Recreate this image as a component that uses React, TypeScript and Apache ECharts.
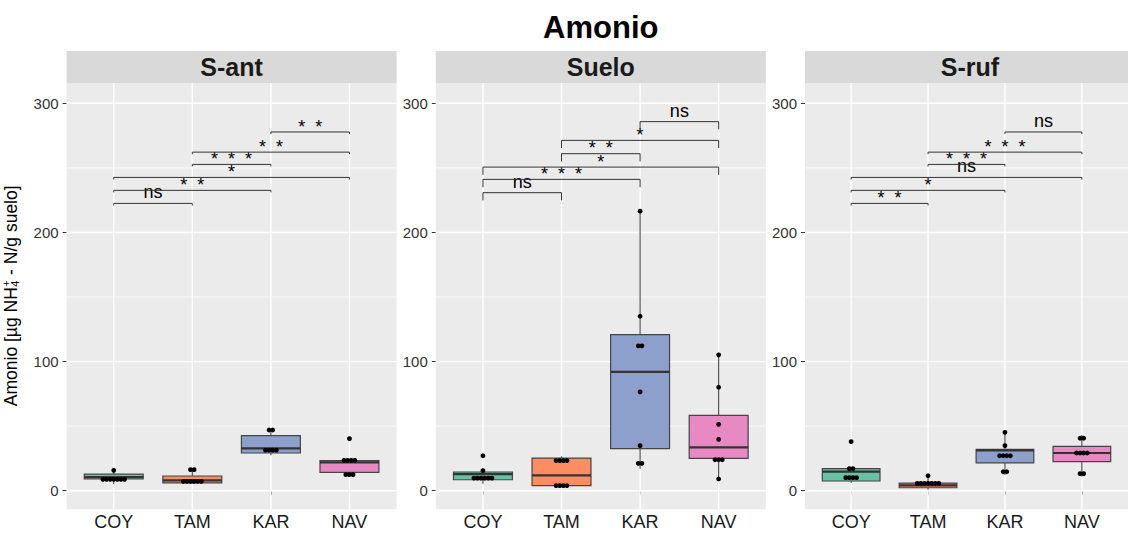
import React, { useEffect, useRef } from 'react';
import * as echarts from 'echarts';

// Sampling sites (x categories) and their fill colours
const groups = ['COY', 'TAM', 'KAR', 'NAV'];
const groupColors = ['#66C2A5', '#FC8D62', '#8DA0CB', '#E78AC3'];

// Facet panels
const panelNames = ['S-ant', 'Suelo', 'S-ruf'];

// Axis ticks and grid lines
const yTicks = [0, 100, 200, 300];
const yGridValues = [0, 50, 100, 150, 200, 250, 300];
const xPositions = [1, 2, 3, 4];

// Box statistics per group: [lower whisker, Q1, median, Q3, upper whisker]
const boxSAnt = [
  [5.0, 9.2, 10.6, 12.8, 15.8],
  [5.5, 6.0, 8.0, 11.4, 16.3],
  [27.4, 29.2, 32.8, 42.6, 47.0],
  [12.4, 14.2, 22.0, 23.3, 23.5],
];
const boxSuelo = [
  [5.4, 8.5, 12.9, 14.5, 15.5],
  [3.6, 3.9, 11.9, 25.3, 26.6],
  [17.0, 32.6, 92.0, 120.9, 217.0],
  [9.1, 25.1, 33.6, 58.4, 105.2],
];
const boxSRuf = [
  [6.0, 7.5, 14.7, 17.1, 17.1],
  [0.8, 2.3, 4.1, 5.9, 11.6],
  [12.2, 21.5, 31.2, 32.0, 45.5],
  [11.0, 22.5, 29.2, 34.4, 43.1],
];

// Individual samples (dot-plot bins)
const dotsSAnt = [
  [15.8, 8.8, 8.8, 8.8, 8.8, 8.8, 8.8, 8.8],
  [16.3, 16.3, 7.2, 7.2, 7.2, 7.2, 7.2, 7.2],
  [47.0, 47.0, 31.4, 31.4, 31.4, 31.4],
  [40.3, 23.5, 23.5, 23.5, 23.5, 12.4, 12.4, 12.4],
];
const dotsSuelo = [
  [27.1, 15.5, 9.8, 9.8, 9.8, 9.8, 9.8, 9.8],
  [23.3, 23.3, 23.3, 23.3, 3.9, 3.9, 3.9, 3.9],
  [216.5, 135.1, 112.2, 112.2, 76.5, 34.9, 21.2, 21.2],
  [105.2, 80.1, 51.4, 39.8, 24.0, 24.0, 24.0, 9.1],
];
const dotsSRuf = [
  [38.0, 17.1, 17.1, 10.1, 10.1, 10.1, 10.1],
  [11.6, 5.7, 5.7, 5.7, 5.7, 5.7, 5.7, 5.7],
  [45.2, 34.9, 27.1, 27.1, 27.1, 27.1, 14.7, 14.7],
  [40.6, 40.6, 29.2, 29.2, 29.2, 29.2, 13.2, 13.2],
];

// Pairwise comparisons (group indices) and their significance labels / heights
const bracketPairs = [
  [0, 1],
  [0, 2],
  [0, 3],
  [1, 2],
  [1, 3],
  [2, 3],
];
const bracketLabelsSAnt = ['ns', '**', '*', '***', '**', '**'];
const bracketLabelsSuelo = ['ns', '***', '*', '**', '*', 'ns'];
const bracketLabelsSRuf = ['**', '*', 'ns', '***', '***', 'ns'];
const bracketHeightsSAnt = [222.5, 232.6, 242.6, 252.7, 262.2, 277.8];
const bracketHeightsSuelo = [230.8, 241.1, 250.6, 261.0, 271.3, 285.8];
const bracketHeightsSRuf = [222.5, 232.6, 242.6, 252.7, 262.2, 277.8];

const panelBoxes = [boxSAnt, boxSuelo, boxSRuf];
const panelDots = [dotsSAnt, dotsSuelo, dotsSRuf];
const panelBracketLabels = [bracketLabelsSAnt, bracketLabelsSuelo, bracketLabelsSRuf];
const panelBracketHeights = [bracketHeightsSAnt, bracketHeightsSuelo, bracketHeightsSRuf];
const panelTipLength = [1.6, 6, 1.6];

// Y axis title pieces: main text, stacked subscript/superscript, rest
const yTitleHead = 'Amonio [µg NH';
const yTitleSub = '4';
const yTitleSup = '+';
const yTitleTail = ' - N/g suelo]';

// Layout
const FONT = 'Liberation Sans, Arial, Helvetica, sans-serif';
const PANEL_LEFT = [66.6, 435.8, 805.0];
const PANEL_WIDTH = 330;
const PANEL_TOP = 83.3;
const PANEL_HEIGHT = 426;
const STRIP_TOP = 51;
const Y_MIN = -14.4;
const Y_MAX = 315.5;
const DOT_STEP = 3.6;
const Y_TITLE_SIZE = 17.5;
const Y_TITLE_SMALL = 11;

// Horizontal offsets (in dot widths) so equal values stack side by side, centred
function stackOffsets(values: number[]): number[] {
  const counts = new Map<number, number>();
  values.forEach((v) => counts.set(v, (counts.get(v) || 0) + 1));
  const seen = new Map<number, number>();
  return values.map((v) => {
    const n = counts.get(v) || 1;
    const k = seen.get(v) || 0;
    seen.set(v, k + 1);
    return k - (n - 1) / 2;
  });
}

function measure(text: string, size: number): number {
  const ctx = document.createElement('canvas').getContext('2d');
  if (!ctx) return text.length * size * 0.55;
  ctx.font = `${size}px ${FONT}`;
  return ctx.measureText(text).width;
}

function yTitleGroup() {
  const wHead = measure(yTitleHead, Y_TITLE_SIZE);
  const wScript = Math.max(measure(yTitleSub, Y_TITLE_SMALL), measure(yTitleSup, Y_TITLE_SMALL));
  const wTail = measure(yTitleTail, Y_TITLE_SIZE);
  const start = -(wHead + wScript + wTail) / 2;
  const base = (text: string, x: number, y: number, size: number) => ({
    type: 'text',
    x,
    y,
    style: {
      text,
      fontSize: size,
      fontFamily: FONT,
      fill: '#000000',
      align: 'left',
      verticalAlign: 'middle',
    },
    silent: true,
  });
  return {
    type: 'group',
    x: 10.5,
    y: PANEL_TOP + PANEL_HEIGHT / 2,
    rotation: Math.PI / 2,
    silent: true,
    children: [
      base(yTitleHead, start, 0, Y_TITLE_SIZE),
      base(yTitleSub, start + wHead + 0.5, 4.2, Y_TITLE_SMALL),
      base(yTitleSup, start + wHead + 0.5, -5, Y_TITLE_SMALL),
      base(yTitleTail, start + wHead + wScript + 1, 0, Y_TITLE_SIZE),
    ],
  };
}

function buildOption() {
  const grids: any[] = [];
  const xAxes: any[] = [];
  const yAxes: any[] = [];
  const series: any[] = [];
  const graphics: any[] = [];

  panelNames.forEach((name, p) => {
    grids.push({
      left: PANEL_LEFT[p],
      top: PANEL_TOP,
      width: PANEL_WIDTH,
      height: PANEL_HEIGHT,
      show: true,
      backgroundColor: '#EBEBEB',
      borderWidth: 0,
      containLabel: false,
    });
    xAxes.push({
      type: 'value',
      gridIndex: p,
      min: 0.4,
      max: 4.6,
      axisLine: { show: false },
      splitLine: { show: false },
      axisTick: {
        show: true,
        customValues: xPositions,
        length: 4,
        lineStyle: { color: '#333333', width: 1 },
      },
      axisLabel: {
        customValues: xPositions,
        formatter: (v: number) => groups[Math.round(v) - 1] || '',
        fontSize: 18,
        fontFamily: FONT,
        color: '#1A1A1A',
        margin: 4,
      },
    });
    yAxes.push({
      type: 'value',
      gridIndex: p,
      min: Y_MIN,
      max: Y_MAX,
      axisLine: { show: false },
      splitLine: { show: false },
      axisTick: {
        show: true,
        customValues: yTicks,
        length: 4,
        lineStyle: { color: '#333333', width: 1 },
      },
      axisLabel: {
        customValues: yTicks,
        fontSize: 15,
        fontFamily: FONT,
        color: '#333333',
        margin: 8,
      },
    });

    // horizontal grid lines
    series.push({
      type: 'custom',
      xAxisIndex: p,
      yAxisIndex: p,
      z: 1,
      silent: true,
      data: yGridValues.map((v) => [1, v]),
      renderItem: (params: any, api: any) => {
        const v = api.value(1);
        const y = api.coord([1, v])[1];
        const cs = params.coordSys;
        const major = v % 100 === 0;
        return {
          type: 'line',
          shape: { x1: cs.x, y1: y, x2: cs.x + cs.width, y2: y },
          style: { stroke: '#FFFFFF', lineWidth: major ? 1.4 : 0.7 },
        };
      },
    });
    // vertical grid lines
    series.push({
      type: 'custom',
      xAxisIndex: p,
      yAxisIndex: p,
      z: 1,
      silent: true,
      data: xPositions.map((v) => [v, 0]),
      renderItem: (params: any, api: any) => {
        const x = api.coord([api.value(0), 0])[0];
        const cs = params.coordSys;
        return {
          type: 'line',
          shape: { x1: x, y1: cs.y, x2: x, y2: cs.y + cs.height },
          style: { stroke: '#FFFFFF', lineWidth: 1.4 },
        };
      },
    });

    // box plots
    const boxes = panelBoxes[p];
    series.push({
      type: 'custom',
      xAxisIndex: p,
      yAxisIndex: p,
      z: 2,
      silent: true,
      data: boxes.map((b, i) => [i + 1, ...b]),
      renderItem: (params: any, api: any) => {
        const x = api.value(0);
        const lo = api.value(1);
        const q1 = api.value(2);
        const med = api.value(3);
        const q3 = api.value(4);
        const hi = api.value(5);
        const half = 0.375;
        const cx = api.coord([x, 0])[0];
        const yLo = api.coord([x, lo])[1];
        const yQ1 = api.coord([x, q1])[1];
        const yMed = api.coord([x, med])[1];
        const yQ3 = api.coord([x, q3])[1];
        const yHi = api.coord([x, hi])[1];
        const xl = api.coord([x - half, 0])[0];
        const xr = api.coord([x + half, 0])[0];
        const stroke = '#454545';
        return {
          type: 'group',
          children: [
            {
              type: 'line',
              shape: { x1: cx, y1: yHi, x2: cx, y2: yQ3 },
              style: { stroke, lineWidth: 1.1 },
            },
            {
              type: 'line',
              shape: { x1: cx, y1: yQ1, x2: cx, y2: yLo },
              style: { stroke, lineWidth: 1.1 },
            },
            {
              type: 'rect',
              shape: { x: xl, y: yQ3, width: xr - xl, height: yQ1 - yQ3 },
              style: { fill: groupColors[params.dataIndex], stroke, lineWidth: 1.2 },
            },
            {
              type: 'line',
              shape: { x1: xl, y1: yMed, x2: xr, y2: yMed },
              style: { stroke: '#333333', lineWidth: 2.2 },
            },
          ],
        };
      },
    });

    // dots
    const dotData: number[][] = [];
    panelDots[p].forEach((vals, gi) => {
      const offs = stackOffsets(vals);
      vals.forEach((v, k) => dotData.push([gi + 1, v, offs[k]]));
    });
    series.push({
      type: 'custom',
      xAxisIndex: p,
      yAxisIndex: p,
      z: 3,
      silent: true,
      data: dotData,
      renderItem: (params: any, api: any) => {
        const pt = api.coord([api.value(0), api.value(1)]);
        return {
          type: 'circle',
          shape: { cx: pt[0] + api.value(2) * DOT_STEP, cy: pt[1], r: 2.4 },
          style: { fill: '#000000' },
        };
      },
    });

    // significance brackets
    const labels = panelBracketLabels[p];
    const heights = panelBracketHeights[p];
    const tip = panelTipLength[p];
    series.push({
      type: 'custom',
      xAxisIndex: p,
      yAxisIndex: p,
      z: 4,
      silent: true,
      clip: false,
      data: heights.map((h, i) => [bracketPairs[i][0] + 1, h]),
      renderItem: (params: any, api: any) => {
        const i = params.dataIndex;
        const [ga, gb] = bracketPairs[i];
        const h = heights[i];
        const a = api.coord([ga + 1, h]);
        const b = api.coord([gb + 1, h]);
        const ta = api.coord([ga + 1, h - tip]);
        const tb = api.coord([gb + 1, h - tip]);
        const label = labels[i];
        const isNs = label === 'ns';
        const text = isNs ? label : label.split('').join('  ');
        return {
          type: 'group',
          children: [
            {
              type: 'polyline',
              shape: { points: [ta, a, b, tb] },
              style: { stroke: '#333333', lineWidth: 1, fill: 'none' },
            },
            {
              type: 'text',
              x: (a[0] + b[0]) / 2,
              y: isNs ? a[1] - 11.1 : a[1] - 5.2,
              style: {
                text,
                fontSize: 18,
                lineHeight: isNs ? 8 : 7,
                fontFamily: FONT,
                fill: '#000000',
                align: 'center',
                verticalAlign: 'middle',
              },
            },
          ],
        };
      },
    });

    // facet strip
    graphics.push({
      type: 'rect',
      shape: { x: PANEL_LEFT[p], y: STRIP_TOP, width: PANEL_WIDTH, height: PANEL_TOP - STRIP_TOP },
      style: { fill: '#D9D9D9' },
      silent: true,
    });
    graphics.push({
      type: 'text',
      x: PANEL_LEFT[p] + PANEL_WIDTH / 2,
      y: (STRIP_TOP + PANEL_TOP) / 2,
      style: {
        text: name,
        fontSize: 25,
        fontWeight: 'bold',
        fontFamily: FONT,
        fill: '#1A1A1A',
        align: 'center',
        verticalAlign: 'middle',
      },
      silent: true,
    });
  });

  // main title
  graphics.push({
    type: 'text',
    x: (PANEL_LEFT[0] + PANEL_LEFT[2] + PANEL_WIDTH) / 2,
    y: 27,
    style: {
      text: 'Amonio',
      fontSize: 31,
      fontWeight: 'bold',
      fontFamily: FONT,
      fill: '#000000',
      align: 'center',
      verticalAlign: 'middle',
    },
    silent: true,
  });

  // y axis title with stacked sub/superscript on NH4+
  graphics.push(yTitleGroup());

  return {
    animation: false,
    backgroundColor: '#FFFFFF',
    textStyle: { fontFamily: FONT },
    grid: grids,
    xAxis: xAxes,
    yAxis: yAxes,
    series,
    graphic: graphics,
  };
}

export default function App() {
  const ref = useRef<HTMLDivElement>(null);
  useEffect(() => {
    if (!ref.current) return;
    const chart = echarts.init(ref.current, undefined, { renderer: 'svg' });
    chart.setOption(buildOption() as any);
    return () => chart.dispose();
  }, []);
  return (
    <div
      ref={ref}
      style={{ position: 'fixed', left: 0, top: 0, width: 1128, height: 533, background: '#FFFFFF' }}
    />
  );
}
